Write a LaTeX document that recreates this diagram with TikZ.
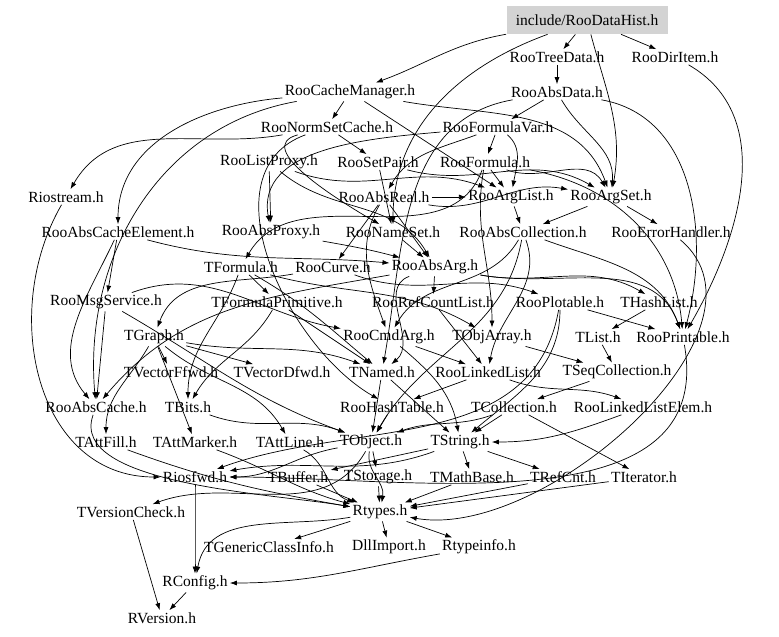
\documentclass[tikz,border=0pt]{standalone}
\usepackage{fontspec}
\setmainfont{Liberation Serif}
\usetikzlibrary{arrows.meta}
\definecolor{rootgray}{HTML}{D3D3D3}

\begin{document}
\begin{tikzpicture}[x=1pt, y=-1pt, line width=0.7pt, -{Latex[length=7pt,width=5pt]},
      every node/.append style={font=\fontsize{15.5}{18}\selectfont, inner sep=2pt},
      rootbox/.style={fill=rootgray, minimum width=161pt, minimum height=28pt}]
    \useasboundingbox (0,0) rectangle (779,637);
    % files
    \node[rootbox] (DataHist) at (587,20) {include/RooDataHist.h};
    \node (TreeData) at (557,57) {RooTreeData.h};
    \node (DirItem) at (675,57) {RooDirItem.h};
    \node (CacheManager) at (350,92) {RooCacheManager.h};
    \node (AbsData) at (557,92) {RooAbsData.h};
    \node (NormSetCache) at (327,127) {RooNormSetCache.h};
    \node (FormulaVar) at (498,127) {RooFormulaVar.h};
    \node (ListProxy) at (269,162) {RooListProxy.h};
    \node (SetPair) at (378,162) {RooSetPair.h};
    \node (Formula) at (485,162) {RooFormula.h};
    \node (Riostream) at (66,197) {Riostream.h};
    \node (AbsReal) at (384,197) {RooAbsReal.h};
    \node (ArgList) at (511,197) {RooArgList.h};
    \node (ArgSet) at (611,197) {RooArgSet.h};
    \node (AbsCacheElement) at (118,232) {RooAbsCacheElement.h};
    \node (AbsProxy) at (271,232) {RooAbsProxy.h};
    \node (NameSet) at (393,232) {RooNameSet.h};
    \node (AbsCollection) at (523,232) {RooAbsCollection.h};
    \node (ErrorHandler) at (671,232) {RooErrorHandler.h};
    \node (TFormula) at (241,267) {TFormula.h};
    \node (Curve) at (333,267) {RooCurve.h};
    \node (AbsArg) at (435,267) {RooAbsArg.h};
    \node (MsgService) at (106,302) {RooMsgService.h};
    \node (FormulaPrimitive) at (277,302) {TFormulaPrimitive.h};
    \node (RefCountList) at (433,302) {RooRefCountList.h};
    \node (Plotable) at (560,302) {RooPlotable.h};
    \node (HashList) at (659,302) {THashList.h};
    \node (Graph) at (154,337) {TGraph.h};
    \node (CmdArg) at (389,337) {RooCmdArg.h};
    \node (ObjArray) at (492,337) {TObjArray.h};
    \node (TList) at (598,337) {TList.h};
    \node (Printable) at (683,337) {RooPrintable.h};
    \node (VectorFfwd) at (171,372) {TVectorFfwd.h};
    \node (VectorDfwd) at (282,372) {TVectorDfwd.h};
    \node (Named) at (382,372) {TNamed.h};
    \node (LinkedList) at (488,372) {RooLinkedList.h};
    \node (SeqCollection) at (617,372) {TSeqCollection.h};
    \node (AbsCache) at (96,407) {RooAbsCache.h};
    \node (Bits) at (188,407) {TBits.h};
    \node (HashTable) at (392,407) {RooHashTable.h};
    \node (Collection) at (514,407) {TCollection.h};
    \node (LinkedListElem) at (643,407) {RooLinkedListElem.h};
    \node (AttFill) at (106,442) {TAttFill.h};
    \node (AttMarker) at (195,442) {TAttMarker.h};
    \node (AttLine) at (290,442) {TAttLine.h};
    \node (Object) at (371,442) {TObject.h};
    \node (TString) at (460,442) {TString.h};
    \node (Riosfwd) at (195,477) {Riosfwd.h};
    \node (Buffer) at (298,477) {TBuffer.h};
    \node (Storage) at (378,477) {TStorage.h};
    \node (MathBase) at (472,477) {TMathBase.h};
    \node (RefCnt) at (563,477) {TRefCnt.h};
    \node (Iterator) at (644,477) {TIterator.h};
    \node (VersionCheck) at (131,512) {TVersionCheck.h};
    \node (Rtypes) at (380,512) {Rtypes.h};
    \node (GenericClassInfo) at (269,547) {TGenericClassInfo.h};
    \node (DllImport) at (389,547) {DllImport.h};
    \node (Rtypeinfo) at (479,547) {Rtypeinfo.h};
    \node (RConfig) at (195,583) {RConfig.h};
    \node (RVersion) at (162,618) {RVersion.h};
    % includes
    \path (DataHist) edge[out=190,in=20] (CacheManager) edge (TreeData) edge (DirItem)
      edge[out=-75,in=80] (ArgSet) edge[out=200,in=90] (NameSet);
    \path (TreeData) edge (AbsData);
    \path (DirItem) edge[out=-30,in=60] (Printable);
    \path (AbsData) edge (FormulaVar) edge[out=-60,in=85] (ArgSet)
      edge[out=-10,in=75] (Printable) edge[out=190,in=80] (Named);
    \path (CacheManager) edge[out=185,in=90] (AbsCacheElement) edge (NormSetCache)
      edge[out=-10,in=110] (ArgSet) edge[out=190,in=95] (AbsCache) edge (ArgList);
    \path (NormSetCache) edge[out=190,in=60] (Riostream) edge (SetPair)
      edge[out=195,in=150] (NameSet) edge[out=200,in=150] (HashTable);
    \path (FormulaVar) edge (Formula) edge[out=-40,in=80] (ArgList)
      edge[out=200,in=60] (AbsReal) edge[out=185,in=100] (AbsProxy);
    \path (ListProxy) edge (AbsProxy) edge[out=-40,in=120] (AbsArg) edge[out=-20,in=160] (ArgList);
    \path (SetPair) edge[out=-15,in=150] (ArgSet) edge (NameSet);
    \path (Formula) edge (ArgList) edge[out=-20,in=120] (ArgSet) edge[out=-10,in=95] (Printable)
      edge[out=250,in=60] (TFormula) edge[out=-100,in=90] (ObjArray);
    \path (AbsReal) edge (AbsArg) edge[out=240,in=110] (CmdArg) edge (Curve)
      edge[out=-10,in=170] (ArgSet) edge (ArgList);
    \path (Riostream) edge[out=-120,in=180,looseness=1.1] (Riosfwd);
    \path (ArgList) edge (AbsCollection);
    \path (ArgSet) edge (AbsCollection) edge (ErrorHandler);
    \path (AbsCacheElement) edge (MsgService) edge[out=-115,in=130] (AbsCache)
      edge[out=-15,in=175] (AbsArg);
    \path (AbsProxy) edge[out=-10,in=165] (AbsArg);
    \path (NameSet) edge (AbsArg);
    \path (AbsCollection) edge[out=-70,in=80] (LinkedList) edge[out=-20,in=110] (Printable)
      edge[out=-120,in=60] (CmdArg) edge[out=-100,in=60] (Object);
    \path (ErrorHandler) edge[out=-40,in=-10,looseness=0.9] (Rtypes);
    \path (TFormula) edge[out=-30,in=140] (Named) edge[out=-110,in=90] (Bits)
      edge[out=-15,in=150] (ObjArray) edge (FormulaPrimitive);
    \path (Curve) edge[out=190,in=70] (Graph) edge[out=-20,in=160] (Plotable);
    \path (AbsArg) edge[out=200,in=40] (Named) edge[out=-10,in=150] (HashList)
      edge[out=-10,in=110] (Printable) edge (RefCountList) edge[out=190,in=50] (AbsCache);
    \path (MsgService) edge (AbsCache) edge[out=-30,in=160] (Object) edge[out=20,in=170] (CmdArg);
    \path (FormulaPrimitive) edge (Named) edge[out=-120,in=60] (Bits);
    \path (RefCountList) edge (LinkedList);
    \path (Plotable) edge[out=-90,in=40] (TString) edge[out=-100,in=20] (Riosfwd) edge (Printable);
    \path (HashList) edge (TList);
    \path (Graph) edge (VectorFfwd) edge (VectorDfwd) edge[out=-10,in=160] (Named)
      edge[out=-40,in=120] (AttLine) edge[out=-120,in=90] (AttFill) edge (AttMarker);
    \path (CmdArg) edge[out=-40,in=100] (TString) edge (LinkedList);
    \path (ObjArray) edge (SeqCollection);
    \path (TList) edge (SeqCollection);
    \path (Printable) edge[out=-80,in=0] (Riosfwd);
    \path (Named) edge (Object) edge (TString);
    \path (LinkedList) edge[out=-20,in=160] (LinkedListElem) edge (HashTable);
    \path (SeqCollection) edge (Collection);
    \path (AbsCache) edge[out=-110,in=170,looseness=0.7] (Rtypes);
    \path (Bits) edge[out=-20,in=160] (Object);
    \path (HashTable) edge (Object);
    \path (Collection) edge[out=200,in=20] (Object) edge (Iterator) edge (TString);
    \path (LinkedListElem) edge[out=-160,in=0] (TString);
    \path (AttFill) edge[out=-20,in=170] (Rtypes);
    \path (AttMarker) edge[out=-20,in=165] (Rtypes);
    \path (AttLine) edge[out=-30,in=160] (Rtypes);
    \path (Object) edge (Storage) edge[out=190,in=0] (Riosfwd) edge[out=-120,in=20] (VersionCheck)
      edge[out=-100,in=80] (Rtypes);
    \path (TString) edge (MathBase) edge (RefCnt) edge[out=-160,in=10] (Riosfwd) edge (Buffer);
    \path (Riosfwd) edge[out=-90,in=90] (RConfig);
    \path (Buffer) edge (Rtypes);
    \path (Storage) edge (Rtypes);
    \path (MathBase) edge (Rtypes);
    \path (RefCnt) edge (Rtypes);
    \path (Iterator) edge (Rtypes);
    \path (VersionCheck) edge (RVersion);
    \path (Rtypes) edge[out=190,in=80] (RConfig) edge (DllImport) edge (Rtypeinfo) edge (GenericClassInfo);
    \path (Rtypeinfo) edge[out=190,in=0] (RConfig);
    \path (RConfig) edge (RVersion);
  \end{tikzpicture}
\end{document}
